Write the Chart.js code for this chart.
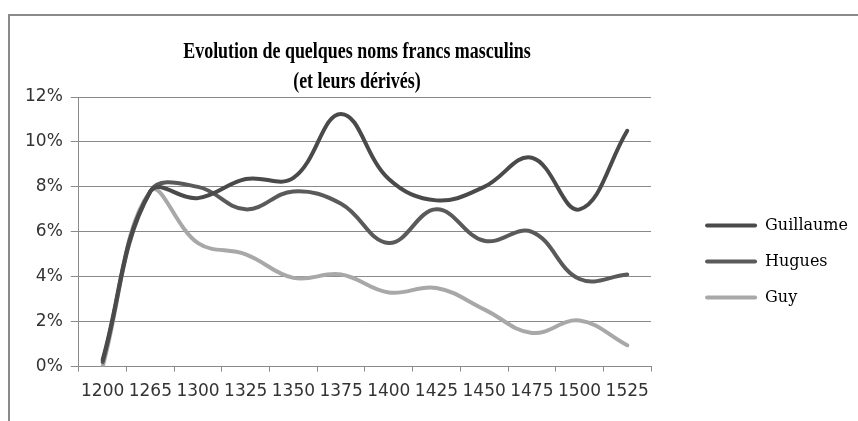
<!DOCTYPE html>
<html>
<head>
<meta charset="utf-8">
<script src="https://cdn.jsdelivr.net/npm/chart.js@4"></script>
<style>
  html, body { margin: 0; padding: 0; background: #fff; }
  #frame {
    position: absolute; left: 8px; top: 14px; width: 900px; height: 460px;
    border-top: 2px solid #8a8a8a; border-left: 2px solid #8a8a8a;
  }
  #wrap { position: absolute; left: 0; top: 0; width: 858px; height: 421px; }
</style>
</head>
<body>
<div id="frame"></div>
<div id="wrap"><canvas id="nomsChart"></canvas></div>
<script>
// years (categories)
const years = ['1200', '1265', '1300', '1325', '1350', '1375', '1400', '1425', '1450', '1475', '1500', '1525'];
// share of names, in %
const guillaume = [0.3, 7.8, 7.5, 8.35, 8.4, 11.25, 8.35, 7.4, 8.0, 9.3, 7.0, 10.5];
const hugues = [0.2, 7.8, 8.0, 7.0, 7.8, 7.25, 5.5, 7.0, 5.6, 6.0, 3.9, 4.1];
const guy = [0, 7.8, 5.5, 5.0, 3.95, 4.1, 3.3, 3.5, 2.55, 1.5, 2.05, 0.95];
const yTicks = [0, 2, 4, 6, 8, 10, 12];
const titleLines = ['Evolution de quelques noms francs masculins', '(et leurs dérivés)'];
const titlePadTop = 37;

function serie(label, data, color) {
  return {
    label: label,
    data: data,
    borderColor: color,
    backgroundColor: color,
    borderWidth: 4,
    borderCapStyle: 'round',
    borderJoinStyle: 'round',
    pointRadius: 0,
    tension: 0.4
  };
}

// the title in the picture is a tall, narrow bold serif: draw it squeezed
// (the normal title stays for the layout, but transparent)
const narrowTitle = {
  id: 'narrowTitle',
  afterDraw(chart) {
    const tb = chart.titleBlock;
    const c = chart.ctx;
    const cx = (chart.chartArea.left + chart.chartArea.right) / 2 - 8;
    const lh = 30;
    c.save();
    c.fillStyle = '#000';
    c.font = 'bold 23px "Liberation Serif", "Times New Roman", serif';
    c.textAlign = 'center';
    c.textBaseline = 'middle';
    titleLines.forEach((t, i) => {
      c.save();
      c.translate(cx, tb.top + titlePadTop + lh * (i + 0.5));
      c.scale(0.78, 1);
      c.fillText(t, 0, 0);
      c.restore();
    });
    c.restore();
  }
};

const ctx = document.getElementById('nomsChart').getContext('2d');
const nomsChart = new Chart(ctx, {
  type: 'line',
  data: {
    labels: years,
    datasets: [
      serie('Guillaume', guillaume, '#4a4a4a'),
      serie('Hugues', hugues, '#5a5a5a'),
      serie('Guy', guy, '#a8a8a8')
    ]
  },
  plugins: [narrowTitle],
  options: {
    responsive: true,
    maintainAspectRatio: false,
    animation: false,
    layout: { padding: { left: 17, right: 0, top: 0, bottom: 9 } },
    plugins: {
      title: {
        display: true,
        fullSize: false,
        text: titleLines,
        color: 'rgba(0,0,0,0)',
        font: { family: '"Liberation Serif", "Times New Roman", serif', size: 19, weight: 'bold', lineHeight: 1.58 },
        padding: { top: titlePadTop, bottom: 0 }
      },
      legend: {
        position: 'right',
        fullSize: false,
        align: 'start',
        maxWidth: 200,
        title: { display: true, text: ' ', font: { size: 12, lineHeight: 1.2 }, padding: { top: 86, bottom: 0 } },
        labels: {
          boxWidth: 52,
          boxHeight: 4,
          padding: 20,
          color: '#000',
          font: { family: '"DejaVu Serif", serif', size: 16 },
          generateLabels: function(chart) {
            return Chart.defaults.plugins.legend.labels.generateLabels(chart)
              .map(item => Object.assign(item, { lineWidth: 0, borderRadius: 2 }));
          }
        }
      },
      tooltip: { enabled: false }
    },
    scales: {
      x: {
        offset: true,
        grid: { offset: true, drawOnChartArea: false, drawTicks: true, tickLength: 5, color: '#8a8a8a' },
        border: { display: true, color: '#8a8a8a' },
        ticks: { padding: 10, color: '#333', maxRotation: 0, autoSkip: false, font: { family: '"DejaVu Sans", sans-serif', size: 17 } }
      },
      y: {
        min: 0,
        max: 12,
        afterBuildTicks: function(scale) { scale.ticks = yTicks.map(v => ({ value: v })); },
        grid: { color: '#8a8a8a', tickLength: 8 },
        border: { display: true, color: '#8a8a8a' },
        ticks: {
          padding: 8,
          color: '#333',
          font: { family: '"DejaVu Sans", sans-serif', size: 17 },
          callback: function(v) { return v + '%'; }
        }
      },
      y2: {
        position: 'right',
        display: true,
        grid: { display: false },
        border: { display: false },
        ticks: { display: false },
        afterFit: function(scale) { scale.width = 34; }
      }
    }
  }
});
</script>
</body>
</html>
